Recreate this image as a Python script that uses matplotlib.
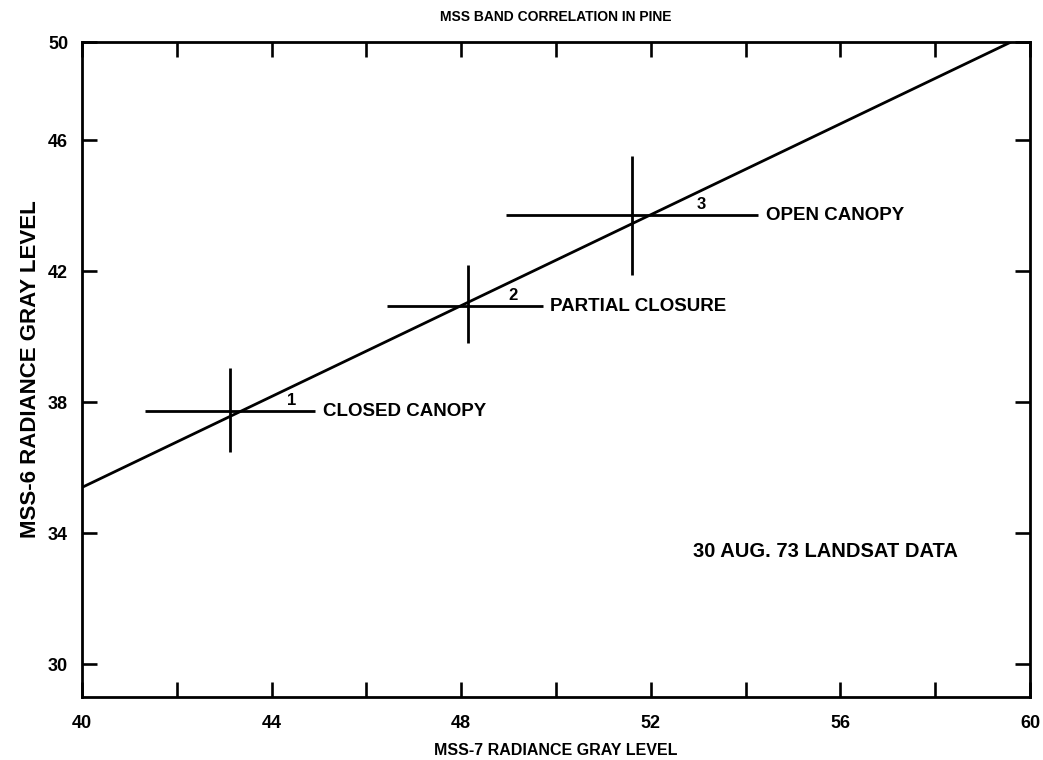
import matplotlib
matplotlib.use("Agg")
import matplotlib.pyplot as plt
import numpy as np

plt.rcParams['font.family'] = ['Liberation Sans Narrow', 'Liberation Sans', 'DejaVu Sans']
plt.rcParams['font.weight'] = 'bold'

# Regression line end points (MSS-7, MSS-6)
fit_x = [40.0, 59.6]
fit_y = [35.4, 49.0]

# Stand crosses: centre, horizontal extent, vertical extent
cross_x = [43.12, 48.14, 51.60]
cross_y = [37.73, 40.93, 43.71]
cross_x_lo = [41.33, 46.43, 48.95]
cross_x_hi = [44.92, 49.73, 54.26]
cross_y_lo = [36.47, 39.80, 41.88]
cross_y_hi = [39.04, 42.18, 45.51]
cross_nums = ['1', '2', '3']
cross_names = ['CLOSED CANOPY', 'PARTIAL CLOSURE', 'OPEN CANOPY']
num_x = [44.43, 49.09, 53.06]
num_y = [38.06, 41.27, 44.05]
name_x = [45.08, 49.87, 54.43]

x_ticks = [40, 42, 44, 46, 48, 50, 52, 54, 56, 58, 60]
x_labels = ['40', '', '44', '', '48', '', '52', '', '56', '', '60']
y_ticks = [30, 34, 38, 42, 46, 49]
y_labels = ['30', '34', '38', '42', '46', '50']

fig = plt.figure(figsize=(10.43, 7.60), dpi=100)
ax = fig.add_axes([82/1043, 1 - 697/760, (1030 - 82)/1043, (697 - 42)/760])

ax.plot(fit_x, fit_y, color='black', lw=2.0, solid_capstyle='butt')

xerr = [np.array(cross_x) - np.array(cross_x_lo), np.array(cross_x_hi) - np.array(cross_x)]
yerr = [np.array(cross_y) - np.array(cross_y_lo), np.array(cross_y_hi) - np.array(cross_y)]
ax.errorbar(cross_x, cross_y, xerr=xerr, yerr=yerr, fmt='none',
            ecolor='black', elinewidth=2.0, capsize=0)

for nx, ny, n in zip(num_x, num_y, cross_nums):
    ax.text(nx, ny, n, fontsize=12, ha='center', va='center', color='black')
for hx, cy, name in zip(name_x, cross_y, cross_names):
    ax.text(hx, cy, name, fontsize=13.5, ha='left', va='center', color='black')

ax.text(52.89, 33.45, '30 AUG. 73 LANDSAT DATA', fontsize=14.5, ha='left', va='center')

ax.set_xlim(40, 60)
ax.set_ylim(29, 49)
ax.set_xticks(x_ticks)
ax.set_xticklabels(x_labels)
ax.set_yticks(y_ticks)
ax.set_yticklabels(y_labels)
ax.tick_params(direction='in', length=11, width=1.9, top=True, right=True,
               labelsize=13)
ax.tick_params(axis='x', pad=13)
ax.tick_params(axis='y', pad=10)
for s in ax.spines.values():
    s.set_linewidth(2.0)

ax.set_title('MSS BAND CORRELATION IN PINE', fontsize=10, fontweight='bold', pad=15)
ax.set_xlabel('MSS-7 RADIANCE GRAY LEVEL', fontsize=11.5, fontweight='bold', labelpad=8)
ax.set_ylabel('MSS-6 RADIANCE GRAY LEVEL', fontsize=16, fontweight='bold', labelpad=5)

fig.savefig('out.png', dpi=100)
